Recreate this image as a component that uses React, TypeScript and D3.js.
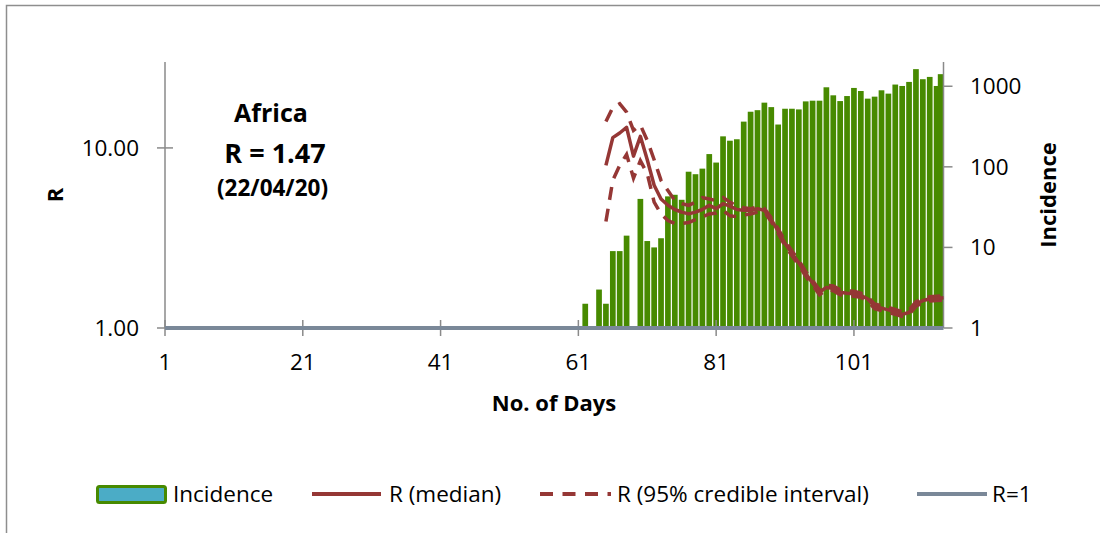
import React from "react";
import * as d3 from "d3";

// ---------- data ----------
const incDays = d3.range(62, 115);
const incidence = [
  2, 0, 3, 2, 9, 9, 14, 0, 40, 12, 10, 13, 43, 45, 39, 87, 81, 95, 144, 113,
  239, 211, 220, 364, 483, 505, 626, 551, 335, 526, 526, 516, 649, 662, 662,
  971, 772, 655, 756, 953, 873, 702, 743, 891, 810, 1050, 1008, 1132, 1631,
  1223, 1306, 1008, 1413,
];

const rDays = d3.range(65, 115);
const rMedian = [
  8.0, 11.4, 12.1, 13.0, 9.0, 11.6, 8.6, 6.2, 5.2, 4.8, 4.55, 4.4, 4.3, 4.4,
  4.55, 4.8, 4.6, 4.9, 4.75, 4.55, 4.5, 4.5, 4.6, 4.5, 4.0, 3.45, 2.95, 2.6,
  2.3, 2.0, 1.78, 1.58, 1.68, 1.66, 1.58, 1.56, 1.55, 1.52, 1.45, 1.32, 1.29,
  1.26, 1.23, 1.19, 1.22, 1.36, 1.42, 1.45, 1.46, 1.47,
];
const rUpper = [
  14.0, 16.8, 17.6, 15.8, 12.5, 13.4, 11.0, 8.6, 6.6, 5.8, 5.1, 4.9, 4.8, 5.0,
  5.3, 5.2, 5.1, 5.3, 5.0, 4.75, 4.65, 4.6, 4.7, 4.6, 4.1, 3.55, 3.05, 2.68,
  2.37, 2.06, 1.83, 1.63, 1.73, 1.71, 1.63, 1.61, 1.6, 1.56, 1.49, 1.36, 1.33,
  1.3, 1.27, 1.23, 1.26, 1.4, 1.46, 1.49, 1.5, 1.51,
];
const rLower = [
  3.9, 6.6, 8.0, 9.2, 6.8, 8.5, 7.2, 5.0, 4.3, 3.95, 3.8, 3.8, 3.85, 4.0,
  4.15, 4.3, 4.35, 4.5, 4.2, 4.15, 4.25, 4.3, 4.4, 4.4, 3.9, 3.35, 2.86, 2.52,
  2.23, 1.94, 1.73, 1.53, 1.63, 1.61, 1.53, 1.51, 1.5, 1.48, 1.41, 1.28, 1.25,
  1.22, 1.19, 1.16, 1.19, 1.32, 1.38, 1.41, 1.42, 1.43,
];

const xTicks = [1, 21, 41, 61, 81, 101];
const rTicks = [1, 10];
const incTicks = [1, 10, 100, 1000];
const dayRange = [1, 114];

const regionName = "Africa";
const rLatest = "R = 1.47";
const dateLabel = "(22/04/20)";

// ---------- layout ----------
const W = 1100;
const H = 533;
const PL = 165;
const PR = 943.5;
const PT = 62;
const PB = 328;

const FONT = "'Open Sans', 'Noto Sans', sans-serif";
const RED = "#953735";
const GREEN = "#478A00";
const GREY = "#7A8898";
const AXIS = "#8A8A8A";

export default function App() {
  const x = d3.scaleLinear().domain(dayRange).range([PL, PR]);
  const yR = d3.scaleLog().domain([1, 30]).range([PB, PT]);
  const yI = d3.scaleLog().domain([1, 2000]).range([PB, PT]);

  const bw = 5.7;

  const mkLine = (vals: number[]) =>
    d3
      .line<number>()
      .x((_, i) => x(rDays[i]))
      .y((v) => yR(v))
      .curve(d3.curveLinear)(vals) || "";

  return (
    <svg
      width={W}
      height={H}
      style={{ position: "absolute", left: 0, top: 0, background: "#fff" }}
      fontFamily={FONT}
    >
      <rect x={6.5} y={5.5} width={1200} height={700} fill="#fff" stroke="#8E8E8E" strokeWidth={1.5} />

      {/* bars */}
      {incDays.map((d, i) =>
        incidence[i] > 1 ? (
          <rect
            key={d}
            x={Math.min(x(d) - bw / 2, PR - bw)}
            y={yI(incidence[i])}
            width={bw}
            height={PB - yI(incidence[i])}
            fill={GREEN}
          />
        ) : null
      )}

      {/* axes */}
      <line x1={PL} x2={PL} y1={PT} y2={PB} stroke={AXIS} strokeWidth={1.5} />
      <line x1={PR} x2={PR} y1={PT} y2={PB} stroke={AXIS} strokeWidth={1.5} />
      {rTicks.map((t) => (
        <g key={"r" + t}>
          <line x1={PL - 8} x2={PL + 8} y1={yR(t)} y2={yR(t)} stroke={AXIS} strokeWidth={1.5} />
          <text x={139} y={yR(t) + 8} fontSize={22.5} textAnchor="end" fill="#000">
            {d3.format(".2f")(t)}
          </text>
        </g>
      ))}
      {incTicks.map((t) => (
        <g key={"i" + t}>
          <line x1={PR} x2={PR + 9} y1={yI(t)} y2={yI(t)} stroke={AXIS} strokeWidth={1.5} />
          <text x={970} y={yI(t) + 8} fontSize={22.5} fill="#000">
            {t}
          </text>
        </g>
      ))}
      {xTicks.map((t) => (
        <g key={"x" + t}>
          <line x1={x(t)} x2={x(t)} y1={PB - 8} y2={PB + 8} stroke={AXIS} strokeWidth={1.5} />
          <text x={x(t)} y={370} fontSize={22.5} textAnchor="middle" fill="#000">
            {t}
          </text>
        </g>
      ))}

      {/* R=1 line */}
      <line x1={x(dayRange[0])} x2={x(dayRange[1])} y1={yR(1)} y2={yR(1)} stroke={GREY} strokeWidth={4} />

      {/* R lines */}
      <path d={mkLine(rUpper)} fill="none" stroke={RED} strokeWidth={3.5} strokeDasharray="13 9" />
      <path d={mkLine(rLower)} fill="none" stroke={RED} strokeWidth={3.5} strokeDasharray="13 9" />
      <path d={mkLine(rMedian)} fill="none" stroke={RED} strokeWidth={3.5} strokeLinejoin="round" />

      {/* axis titles */}
      <text x={554} y={411} fontSize={22} fontWeight="bold" textAnchor="middle">
        No. of Days
      </text>
      <text transform="translate(63,195) rotate(-90)" fontSize={22} fontWeight="bold" textAnchor="middle">
        R
      </text>
      <text transform="translate(1056,195) rotate(-90)" fontSize={22} fontWeight="bold" textAnchor="middle">
        Incidence
      </text>

      {/* annotation */}
      <text x={271} y={122} fontSize={25} fontWeight="bold" textAnchor="middle">
        {regionName}
      </text>
      <text x={275} y={163} fontSize={27} fontWeight="bold" textAnchor="middle">
        {rLatest}
      </text>
      <text x={272.5} y={196} fontSize={22.5} fontWeight="bold" textAnchor="middle">
        {dateLabel}
      </text>

      {/* legend */}
      <rect x={97.5} y={486.5} width={68} height={16} rx={2} fill="#4BACC6" stroke={GREEN} strokeWidth={3} />
      <text x={173} y={502} fontSize={22.5}>Incidence</text>
      <line x1={312} x2={381} y1={494} y2={494} stroke={RED} strokeWidth={4} />
      <text x={389} y={502} fontSize={22.5}>R (median)</text>
      <line x1={540} x2={611} y1={494} y2={494} stroke={RED} strokeWidth={4} strokeDasharray="13 9.5" />
      <text x={617} y={502} fontSize={22.5}>R (95% credible interval)</text>
      <line x1={917} x2={987} y1={494} y2={494} stroke={GREY} strokeWidth={4} />
      <text x={992} y={502} fontSize={22.5}>R=1</text>
    </svg>
  );
}
